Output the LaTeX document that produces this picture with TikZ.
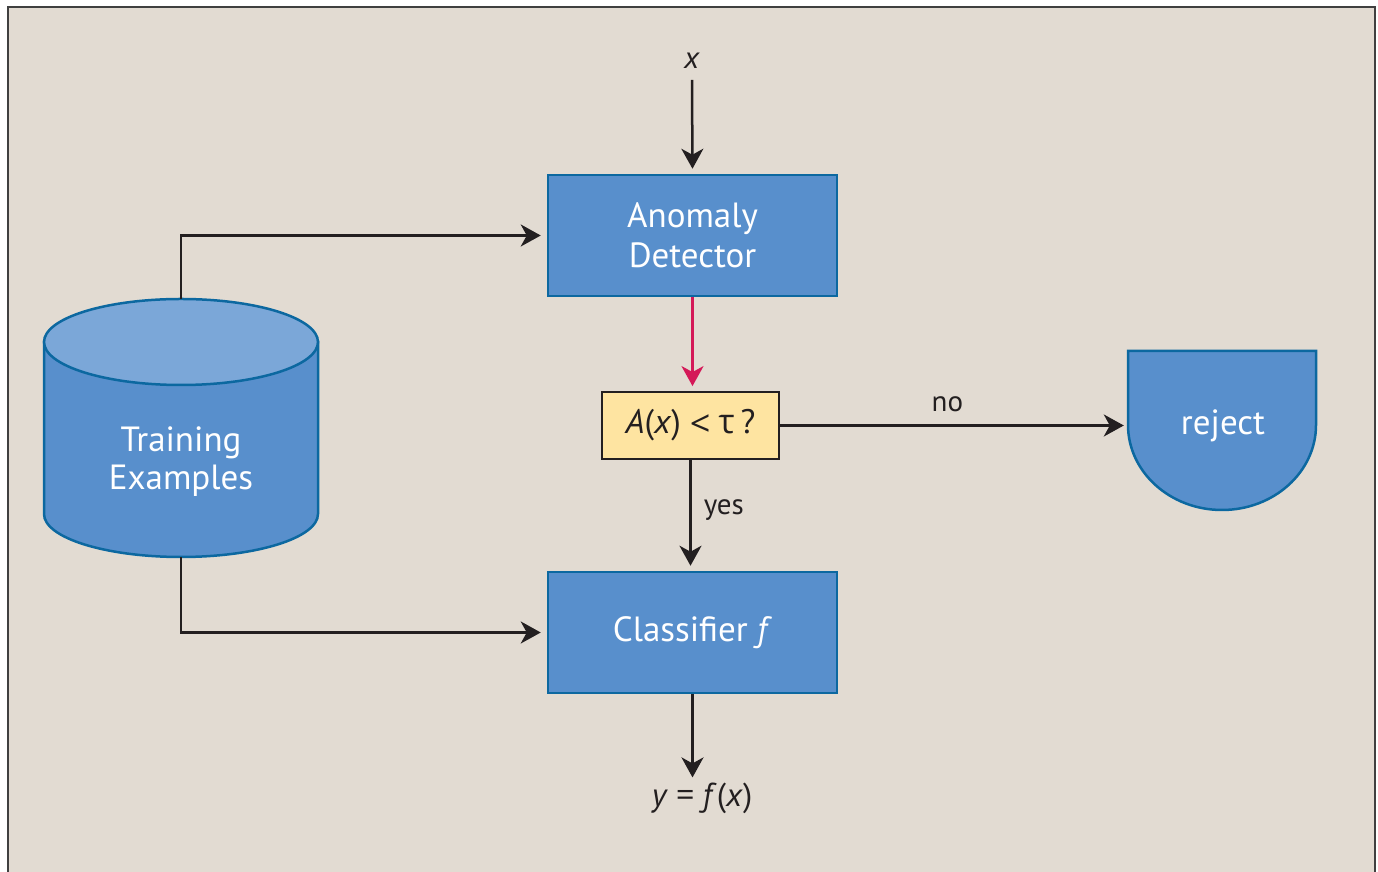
\documentclass[tikz,border=0pt]{standalone}
\usepackage{fontspec}
\setmainfont{PT Sans}
\newfontfamily\greekfont{Open Sans}
\usetikzlibrary{arrows.meta}
\definecolor{panelbg}{RGB}{226,219,210}
\definecolor{boxblue}{RGB}{88,143,204}
\definecolor{boxedge}{RGB}{12,104,160}
\definecolor{cyltop}{RGB}{123,167,216}
\definecolor{qfill}{RGB}{254,228,161}
\definecolor{ink}{RGB}{35,31,32}
\definecolor{redarrow}{RGB}{212,25,88}
\tikzset{
  bluebox/.style={draw=boxedge, fill=boxblue, line width=2.5pt, text=white,
    minimum width=289, minimum height=121, align=center, inner sep=0pt,
    font=\fontsize{35}{40}\selectfont},
  qbox/.style={draw=ink, fill=qfill, line width=1.8pt, text=ink,
    minimum width=177, minimum height=67, inner sep=0pt,
    font=\fontsize{34}{40}\selectfont},
  conn/.style={draw=ink, line width=2.5pt,
    -{Stealth[length=20pt,width=22pt,inset=6pt]}, shorten >=5pt},
  lbl/.style={text=ink, inner sep=0pt, font=\fontsize{29}{34}\selectfont}
}
\begin{document}
\begin{tikzpicture}[x=1pt,y=1pt]
\useasboundingbox (0,0) rectangle (1378,872);
\clip (0,0) rectangle (1378,872);
\fill[white] (0,0) rectangle (1378,872);
\draw[fill=panelbg, draw=black!75, line width=2pt] (8,-20) rectangle (1375,865);

% cylinder
\filldraw[fill=boxblue, draw=boxedge, line width=2.5pt]
  (44,530) -- (44,358) arc[start angle=180,end angle=360,x radius=137,y radius=43] -- (318,530) -- cycle;
\filldraw[fill=cyltop, draw=boxedge, line width=2.5pt] (181,530) ellipse[x radius=137,y radius=43];
\coordinate (cyltopc) at (181,573);
\coordinate (cylbotc) at (181,315);
\node[text=white, align=center, inner sep=0pt, font=\fontsize{35}{38}\selectfont] (train) at (181,410) {Training\\Examples};

% reject shape
\filldraw[fill=boxblue, draw=boxedge, line width=2.5pt]
  (1128,521) -- (1128,447) arc[start angle=180,end angle=360,x radius=94,y radius=85] -- (1316,521) -- cycle;
\node[text=white, inner sep=0pt, minimum width=188, font=\fontsize{35}{40}\selectfont] (reject) at (1223,446) {reject};

% boxes
\node[bluebox] (ad) at (692.5,636.5) {Anomaly\\Detector};
\node[qbox] (q) at (690.5,446.5) {\textit{A}(\textit{x})\hspace{9pt}\raisebox{-2.5pt}{\greekfont\fontsize{36}{40}\selectfont <}\hspace{8pt}{\greekfont τ}\hspace{6pt}?};
\node[bluebox] (cls) at (692.5,239.5) {Classifier \textit{f}};

% labels
\node[lbl, font=\fontsize{31}{34}\selectfont] (xin) at (692,811) {\textit{x}};
\node[lbl, font=\fontsize{33}{36}\selectfont] (yout) at (702,74) {\textit{y}\hspace{8pt}{\greekfont =}\hspace{8pt}\textit{f}(\textit{x})};

% connectors
\draw[conn] (692,792) -- (ad.north);
\draw[conn, draw=redarrow] (ad.south) -- (ad.south |- q.north);
\draw[conn] (q.south) -- node[lbl, right=12pt, pos=0.45] (yes) {yes} (q.south |- cls.north);
\draw[conn] (q.east) -- node[lbl, above=12pt, pos=0.48] (no) {no} (q.east -| reject.west);
\draw[conn] (cls.south) -- (cls.south |- yout.north);
\draw[conn, shorten >=6pt] (cyltopc) |- (ad.west);
\draw[conn, shorten >=6pt] (cylbotc) |- (cls.west);
\end{tikzpicture}
\end{document}
